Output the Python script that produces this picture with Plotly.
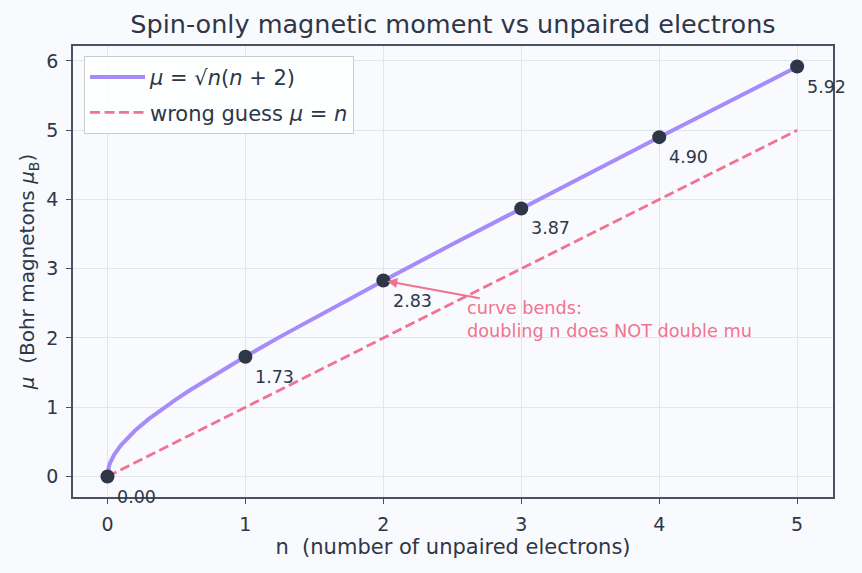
import plotly.graph_objects as go

# curve samples of mu = sqrt(n(n+2))
curve_n = [0, 0.005, 0.01, 0.02, 0.03, 0.05, 0.1, 0.15, 0.2, 0.3, 0.4, 0.5, 0.6, 0.75,
           1, 1.25, 1.5, 2, 2.5, 3, 3.5, 4, 4.5, 5]
curve_mu = [0, 0.1001, 0.1418, 0.201, 0.2468, 0.320, 0.458, 0.568, 0.663, 0.831, 0.980,
            1.118, 1.249, 1.436, 1.732, 2.016, 2.291, 2.828, 3.354, 3.873, 4.387,
            4.899, 5.408, 5.916]

# integer points
pts_n = [0, 1, 2, 3, 4, 5]
pts_mu = [0.00, 1.73, 2.83, 3.87, 4.90, 5.92]
pts_labels = ["0.00", "1.73", "2.83", "3.87", "4.90", "5.92"]

# wrong guess mu = n
guess_n = [0, 5]
guess_mu = [0, 5]

dark = "#2d3748"
purple = "#a78bfa"
pink = "#f07390"
bg = "#f9fafd"

fig = go.Figure()
fig.add_trace(go.Scatter(x=curve_n, y=curve_mu, mode="lines", legendgroup="a",
                         line=dict(color=purple, width=4),
                         name="<i>μ</i> = √<i>n</i>(<i>n</i> + 2)"))
fig.add_trace(go.Scatter(x=guess_n, y=guess_mu, mode="lines", legendgroup="b",
                         line=dict(color=pink, width=2.8, dash="10px,4.5px"),
                         name="wrong guess <i>μ</i> = <i>n</i>"))
fig.add_trace(go.Scatter(x=pts_n, y=pts_mu, mode="markers",
                         marker=dict(color=dark, size=14), showlegend=False))

for xv, yv, lab in zip(pts_n, pts_mu, pts_labels):
    fig.add_annotation(x=xv, y=yv, text=lab, showarrow=False,
                       xanchor="left", yanchor="top", xshift=8, yshift=-8,
                       font=dict(size=17.5, color=dark))

fig.add_annotation(x=2, y=2.83, ax=2.71, ay=2.57, axref="x", ayref="y",
                   text="", showarrow=True, arrowhead=2, arrowsize=1,
                   arrowwidth=2, arrowcolor=pink, standoff=4)
fig.add_annotation(x=2.59, y=2.6, text="curve bends:<br>doubling n does NOT double mu",
                   showarrow=False, xanchor="left", yanchor="top", align="left",
                   font=dict(size=17.7, color=pink))

axis_common = dict(showgrid=True, gridcolor="#e1e6ec", gridwidth=1,
                   showline=True, linecolor="#4a5160", linewidth=1.5, mirror=True,
                   ticks="outside", ticklen=5, tickcolor="#4a5160", ticklabelstandoff=4,
                   tickfont=dict(size=19, color=dark), zeroline=False)

fig.update_layout(
    width=862, height=573,
    paper_bgcolor=bg, plot_bgcolor=bg,
    margin=dict(l=73, r=29, t=46, b=76),
    font=dict(family="DejaVu Sans", color=dark),
    title=dict(text="Spin-only magnetic moment vs unpaired electrons",
               x=0.5255, xanchor="center", y=0.958, yanchor="middle",
               font=dict(size=25.5, color=dark)),
    xaxis=dict(range=[-0.25, 5.26], tickvals=[0, 1, 2, 3, 4, 5],
               title=dict(text="n  (number of unpaired electrons)", font=dict(size=21, color=dark), standoff=6),
               **axis_common),
    yaxis=dict(range=[-0.296, 6.216], tickvals=[0, 1, 2, 3, 4, 5, 6],
               title=dict(text="<i>μ</i>  (Bohr magnetons <i>μ</i><sub>B</sub>)", font=dict(size=20, color=dark), standoff=6),
               **axis_common),
    legend=dict(x=0.0145, y=0.978, xanchor="left", yanchor="top",
                bgcolor="rgba(255,255,255,0.85)", bordercolor="#cccccc", borderwidth=1,
                font=dict(size=21, color=dark), itemwidth=55, tracegroupgap=5),
    showlegend=True,
)

fig.write_html("out.html")
